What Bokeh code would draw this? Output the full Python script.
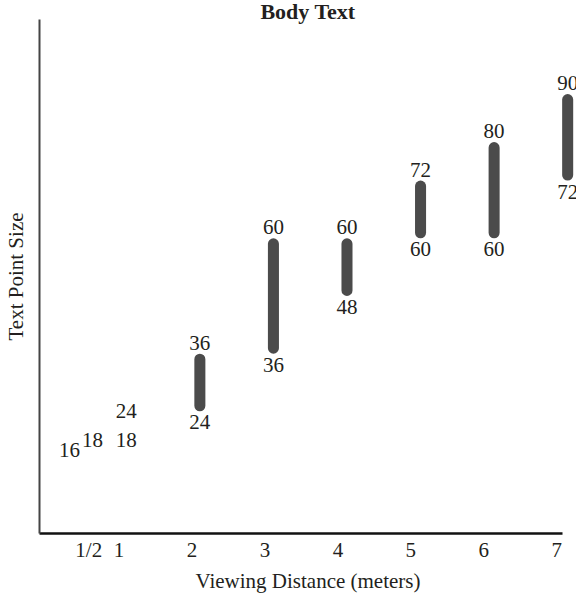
from bokeh.plotting import figure
from bokeh.models import Range1d, FixedTicker, ColumnDataSource
from bokeh.core.properties import value
from bokeh.embed import file_html
from bokeh.resources import INLINE

# ---- data ----
distance_labels = ["1/2", "1", "2", "3", "4", "5", "6", "7"]
distance_m = [0.5, 1, 2, 3, 4, 5, 6, 7]
size_min = [16, 18, 24, 36, 48, 60, 60, 72]
size_max = [18, 24, 36, 60, 60, 72, 80, 90]
has_bar = [False, False, True, True, True, True, True, True]

FONT = "Liberation Serif"
INK = "#231f20"
BAR = "#4b4b4b"
FS = "21px"

p = figure(width=576, height=596, output_backend="svg", toolbar_location=None,
           x_range=Range1d(-0.18, 7.12), y_range=Range1d(-1.4, 105.5),
           min_border_left=37, min_border_right=0, min_border_top=0,
           min_border_bottom=63, background_fill_color="white",
           border_fill_color="white")
p.outline_line_color = None
p.grid.visible = False

# title
p.title.text = "Body Text"
p.title.align = "center"
p.title.text_font = FONT
p.title.text_font_size = "22px"
p.title.text_font_style = "bold"
p.title.text_color = INK
p.title.standoff = -8

# bars
bx = [x for x, b in zip(distance_m, has_bar) if b]
blo = [v for v, b in zip(size_min, has_bar) if b]
bhi = [v for v, b in zip(size_max, has_bar) if b]
bars = ColumnDataSource(dict(x=bx, lo=blo, hi=bhi,
                             tlo=[str(v) for v in blo], thi=[str(v) for v in bhi]))
p.vbar(x="x", bottom="lo", top="hi", width=0.15, source=bars,
       fill_color=BAR, line_color=None, border_radius=6)

common = dict(text_font=value(FONT), text_font_size=FS, text_color=INK,
              text_align="center", text_baseline="alphabetic")
p.text(x="x", y="hi", text="thi", source=bars, y_offset=-11, **common)
p.text(x="x", y="lo", text="tlo", source=bars, y_offset=11, **common)

# labels without bars
nx, ny, nt, nxo = [], [], [], []
for x, lo, hi, b in zip(distance_m, size_min, size_max, has_bar):
    if b:
        continue
    side = x < 1  # at 1/2 the two values sit side by side
    nx += [x, x]
    ny += [lo, hi]
    nt += [str(lo), str(hi)]
    nxo += [-20 if side else 0, 3 if side else 0]
nob = ColumnDataSource(dict(x=nx, y=ny, t=nt, xo=nxo))
p.text(x="x", y="y", text="t", source=nob, x_offset="xo", y_offset=0, **common)

# x axis
tick_pos = [round(0.49 if x < 1 else 0.9024 + 0.9915 * (x - 1), 4) for x in distance_m]
xa = p.xaxis[0]
xa.ticker = FixedTicker(ticks=tick_pos)
xa.major_label_overrides = {t: l for t, l in zip(tick_pos, distance_labels)}
xa.major_tick_line_color = None
xa.minor_tick_line_color = None
xa.major_tick_out = 0
xa.major_tick_in = 0
xa.minor_tick_out = 0
xa.minor_tick_in = 0
xa.axis_line_width = 2.5
xa.axis_line_color = "#111111"
xa.bounds = (-0.18, 6.93)
xa.major_label_standoff = 4
xa.major_label_text_font = FONT
xa.major_label_text_font_size = FS
xa.major_label_text_color = INK
xa.axis_label = "Viewing Distance (meters)"
xa.axis_label_standoff = 4
xa.axis_label_text_font = FONT
xa.axis_label_text_font_size = FS
xa.axis_label_text_font_style = "normal"
xa.axis_label_text_color = INK

# y axis
ya = p.yaxis[0]
ya.ticker = FixedTicker(ticks=[])
ya.major_tick_line_color = None
ya.minor_tick_line_color = None
ya.major_tick_out = 0
ya.major_tick_in = 0
ya.minor_tick_out = 0
ya.minor_tick_in = 0
ya.major_label_standoff = 0
ya.axis_line_width = 2
ya.axis_line_color = "#444444"
ya.axis_label = "Text Point Size"
ya.axis_label_standoff = 12
ya.axis_label_text_font = FONT
ya.axis_label_text_font_size = FS
ya.axis_label_text_font_style = "normal"
ya.axis_label_text_color = INK

open("out.html", "w").write(file_html(p, INLINE))
